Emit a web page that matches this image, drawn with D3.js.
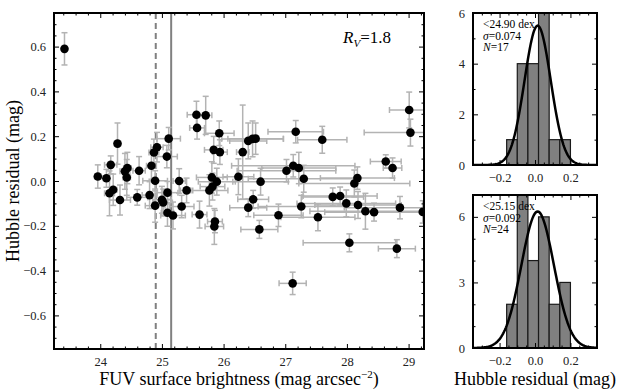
<!DOCTYPE html>
<html>
<head>
<meta charset="utf-8">
<script src="https://cdn.jsdelivr.net/npm/d3@7"></script>
<style>
  body { margin: 0; background: #fff; }
  svg { display: block; font-family: "Liberation Serif", "DejaVu Serif", serif; }
</style>
</head>
<body>
<svg id="chart" width="623" height="391"></svg>
<script>
// FUV surface brightness vs Hubble residual
let fuv = [23.42, 23.96, 24.10, 24.17, 24.28, 24.15, 24.21, 24.32, 24.40, 24.44,
    24.43, 24.63, 24.60, 24.80, 24.83, 24.89, 24.87, 24.92, 24.89, 25.00,
    25.02, 25.09, 25.08, 25.11, 25.09, 25.18, 25.28, 25.40, 25.32, 25.56,
    25.71, 25.57, 25.61, 25.77, 25.82, 25.86, 25.85, 25.93, 25.84, 25.94,
    25.81, 25.89, 26.31, 26.40, 26.47, 26.52, 27.17, 27.60, 29.01, 29.03,
    28.63, 28.74, 27.02, 27.13, 27.22, 27.30, 26.24, 26.60, 28.12, 28.17,
    27.77, 27.89, 27.99, 28.18, 26.48, 26.40, 27.26, 26.89, 27.53, 28.30,
    28.44, 28.86, 29.23, 26.58, 28.04, 28.81, 27.12];
let resid = [0.590, 0.020, 0.012, 0.072, 0.167, -0.055, -0.039, -0.085, 0.043, 0.058,
    0.016, 0.046, -0.073, -0.063, 0.068, 0.001, 0.127, 0.151, -0.110, -0.084,
    -0.096, -0.052, 0.109, 0.189, -0.142, -0.154, 0.000, -0.042, -0.114, 0.296,
    0.293, 0.237, -0.150, -0.042, -0.025, -0.181, -0.203, 0.213, 0.139, 0.129,
    0.016, -0.003, 0.129, 0.179, 0.188, 0.189, 0.220, 0.184, 0.317, 0.216,
    0.087, 0.058, 0.046, 0.068, 0.058, 0.010, 0.019, -0.003, -0.011, 0.013,
    -0.071, -0.067, -0.100, -0.107, -0.082, -0.119, -0.114, -0.153, -0.162, -0.135,
    -0.139, -0.119, -0.138, -0.216, -0.276, -0.302, -0.457];
let fuvErr = [0.00, 0.05, 0.05, 0.10, 0.05, 0.08, 0.06, 0.17, 0.08, 0.06,
    0.06, 0.10, 0.17, 0.12, 0.08, 0.20, 0.08, 0.10, 0.16, 0.15,
    0.15, 0.17, 0.17, 0.19, 0.10, 0.20, 0.10, 0.10, 0.20, 0.15,
    0.10, 0.12, 0.12, 0.30, 0.20, 0.12, 0.15, 0.24, 0.15, 0.12,
    0.25, 0.30, 0.10, 0.30, 0.50, 0.45, 0.45, 0.40, 0.32, 0.75,
    0.25, 0.15, 0.80, 1.00, 0.60, 0.90, 0.25, 0.45, 0.90, 0.60,
    0.50, 0.60, 0.80, 0.70, 0.25, 0.30, 0.70, 0.40, 0.60, 0.90,
    0.80, 0.90, 0.90, 0.30, 0.75, 0.30, 0.22];
let residErr = [0.072, 0.052, 0.040, 0.040, 0.092, 0.100, 0.070, 0.067, 0.080, 0.070,
    0.080, 0.063, 0.035, 0.060, 0.060, 0.045, 0.060, 0.066, 0.074, 0.060,
    0.060, 0.050, 0.050, 0.050, 0.060, 0.060, 0.055, 0.055, 0.050, 0.060,
    0.085, 0.050, 0.060, 0.070, 0.060, 0.050, 0.080, 0.055, 0.060, 0.055,
    0.070, 0.060, 0.210, 0.080, 0.080, 0.070, 0.050, 0.060, 0.080, 0.060,
    0.030, 0.045, 0.050, 0.050, 0.070, 0.060, 0.080, 0.060, 0.060, 0.050,
    0.040, 0.040, 0.060, 0.060, 0.040, 0.040, 0.050, 0.050, 0.060, 0.080,
    0.040, 0.050, 0.050, 0.040, 0.040, 0.040, 0.050];

let cuts = [24.90, 25.15];

// histogram panels
let binEdges = [-0.16, -0.10, -0.04, 0.02, 0.08, 0.14, 0.20];
let histTop = [1, 4, 4, 6, 1, 1];
let histBottom = [2, 7, 4, 6, 2, 3];
let fitMu = [0.015, 0.015];
let fitSigma = [0.074, 0.092];
let fitN = [17, 24];
let histLabels = ["<24.90 dex", "<25.15 dex"];

let xTicks = [24, 25, 26, 27, 28, 29];
let yTicks = [-0.6, -0.4, -0.2, 0.0, 0.2, 0.4, 0.6];

let svg = d3.select("#chart");

//main panel
let main = { left: 54, right: 424, top: 13, bottom: 349 };

let x = d3.scaleLinear().domain([23.25, 29.25]).range([main.left, main.right]);
let y = d3.scaleLinear().domain([-0.75, 0.75]).range([main.bottom, main.top]);

svg.append("clipPath").attr("id", "clipmain")
    .append("rect")
    .attr("x", main.left).attr("y", main.top)
    .attr("width", main.right - main.left).attr("height", main.bottom - main.top);

let plot = svg.append("g").attr("clip-path", "url(#clipmain)");

//cut lines
plot.selectAll("line.cut")
    .data(cuts)
    .enter()
    .append("line")
    .attr("x1", d => x(d)).attr("x2", d => x(d))
    .attr("y1", main.top).attr("y2", main.bottom)
    .attr("stroke", "#808080")
    .attr("stroke-width", 2)
    .attr("stroke-dasharray", (d, i) => i == 0 ? "6,4" : null);

let pts = fuv.map((d, i) => ({ x: d, y: resid[i], xe: fuvErr[i], ye: residErr[i] }));

let errColor = "#b3b3b3";
let eb = plot.append("g")
    .attr("stroke", errColor)
    .attr("stroke-width", 1.5)
    .attr("fill", "none");

pts.forEach(function(p) {
    let cx = x(p.x), cy = y(p.y);
    if (p.xe > 0) {
        eb.append("line").attr("x1", x(p.x - p.xe)).attr("x2", x(p.x + p.xe)).attr("y1", cy).attr("y2", cy);
        eb.append("line").attr("x1", x(p.x - p.xe)).attr("x2", x(p.x - p.xe)).attr("y1", cy - 3).attr("y2", cy + 3);
        eb.append("line").attr("x1", x(p.x + p.xe)).attr("x2", x(p.x + p.xe)).attr("y1", cy - 3).attr("y2", cy + 3);
    }
    eb.append("line").attr("x1", cx).attr("x2", cx).attr("y1", y(p.y - p.ye)).attr("y2", y(p.y + p.ye));
    eb.append("line").attr("x1", cx - 3).attr("x2", cx + 3).attr("y1", y(p.y - p.ye)).attr("y2", y(p.y - p.ye));
    eb.append("line").attr("x1", cx - 3).attr("x2", cx + 3).attr("y1", y(p.y + p.ye)).attr("y2", y(p.y + p.ye));
});

plot.selectAll("circle.pt")
    .data(pts)
    .enter()
    .append("circle")
    .attr("class", "pt")
    .attr("cx", d => x(d.x))
    .attr("cy", d => y(d.y))
    .attr("r", 4.3)
    .attr("fill", "black");

//axes, ticks inside on all sides
function frame(g, xs, ys, xt, yt, xminor, yminor, xfmt, yfmt) {
    let [x0, x1] = xs.range();
    let [y0, y1] = ys.range();
    g.append("g").attr("transform", `translate(0,${y0})`)
        .call(d3.axisBottom(xs).tickValues(xt).tickSizeInner(-5).tickSizeOuter(0).tickPadding(8).tickFormat(xfmt));
    g.append("g").attr("transform", `translate(0,${y1})`)
        .call(d3.axisTop(xs).tickValues(xt).tickSizeInner(-5).tickSizeOuter(0).tickFormat(""));
    g.append("g").attr("transform", `translate(${x0},0)`)
        .call(d3.axisLeft(ys).tickValues(yt).tickSizeInner(-5).tickSizeOuter(0).tickPadding(8).tickFormat(yfmt));
    g.append("g").attr("transform", `translate(${x1},0)`)
        .call(d3.axisRight(ys).tickValues(yt).tickSizeInner(-5).tickSizeOuter(0).tickFormat(""));
    //minor
    g.append("g").attr("transform", `translate(0,${y0})`)
        .call(d3.axisBottom(xs).tickValues(xminor).tickSizeInner(-2.5).tickSizeOuter(0).tickFormat(""));
    g.append("g").attr("transform", `translate(0,${y1})`)
        .call(d3.axisTop(xs).tickValues(xminor).tickSizeInner(-2.5).tickSizeOuter(0).tickFormat(""));
    g.append("g").attr("transform", `translate(${x0},0)`)
        .call(d3.axisLeft(ys).tickValues(yminor).tickSizeInner(-2.5).tickSizeOuter(0).tickFormat(""));
    g.append("g").attr("transform", `translate(${x1},0)`)
        .call(d3.axisRight(ys).tickValues(yminor).tickSizeInner(-2.5).tickSizeOuter(0).tickFormat(""));
    g.selectAll(".domain").remove();
    g.selectAll(".tick line").attr("stroke", "black").attr("stroke-width", 1);
    g.selectAll(".tick text").attr("font-family", "Liberation Serif, serif").attr("font-size", 12.5).attr("fill", "#222");
    g.append("rect")
        .attr("x", x0).attr("y", y1)
        .attr("width", x1 - x0).attr("height", y0 - y1)
        .attr("fill", "none").attr("stroke", "black").attr("stroke-width", 2);
}

let minorX = d3.range(23.4, 29.25, 0.2).filter(v => Math.abs(v - Math.round(v)) > 0.01);
let minorY = d3.range(-0.7, 0.75, 0.05).filter(v => Math.abs(v * 5 - Math.round(v * 5)) > 0.01);

frame(svg.append("g"), x, y, xTicks, yTicks, minorX, minorY, d3.format("d"), d3.format(".1f"));

//R_V label
let rv = svg.append("text")
    .attr("x", 343).attr("y", 43)
    .attr("font-size", 17)
    .attr("fill", "black");
rv.append("tspan").attr("font-style", "italic").text("R");
rv.append("tspan").attr("font-style", "italic").attr("font-size", 11).attr("dy", 4).text("V");
rv.append("tspan").attr("dy", -4).text("=1.8");

//axis labels
let xl = svg.append("text")
    .attr("x", 239).attr("y", 385)
    .attr("text-anchor", "middle")
    .attr("font-size", 18)
    .text("FUV surface brightness (mag arcsec");
xl.append("tspan").attr("font-size", 11).attr("dy", -7).text("\u22122");
xl.append("tspan").attr("dy", 7).text(")");

svg.append("text")
    .attr("transform", "translate(19,181) rotate(-90)")
    .attr("text-anchor", "middle")
    .attr("font-size", 18)
    .text("Hubble residual (mag)");

//histograms
let panels = [
    { top: 13, bottom: 165, ymax: 6, yticks: [0, 2, 4, 6], yminor: [1, 3, 5], counts: histTop },
    { top: 195, bottom: 348, ymax: 7, yticks: [0, 3, 6], yminor: [1, 2, 4, 5, 7], counts: histBottom }
];
let hLeft = 473, hRight = 597;

panels.forEach(function(p, k) {
    let hx = d3.scaleLinear().domain([-0.35, 0.35]).range([hLeft, hRight]);
    let hy = d3.scaleLinear().domain([0, p.ymax]).range([p.bottom, p.top]);

    let g = svg.append("g");
    svg.append("clipPath").attr("id", "cliph" + k)
        .append("rect")
        .attr("x", hLeft).attr("y", p.top)
        .attr("width", hRight - hLeft).attr("height", p.bottom - p.top);

    let inner = g.append("g").attr("clip-path", `url(#cliph${k})`);

    let bins = p.counts.map((c, i) => ({ x0: binEdges[i], x1: binEdges[i + 1], n: c }));
    inner.selectAll("rect.bar")
        .data(bins)
        .enter()
        .append("rect")
        .attr("x", d => hx(d.x0))
        .attr("y", d => hy(d.n))
        .attr("width", d => hx(d.x1) - hx(d.x0))
        .attr("height", d => hy(0) - hy(d.n))
        .attr("fill", "#808080")
        .attr("stroke", "#1a1a1a")
        .attr("stroke-width", 1.2);

    //gaussian fit
    let bw = binEdges[1] - binEdges[0];
    let amp = fitN[k] * bw / (fitSigma[k] * Math.sqrt(2 * Math.PI));
    let xs = d3.range(-0.35, 0.3501, 0.005);
    let line = d3.line()
        .x(d => hx(d))
        .y(d => hy(amp * Math.exp(-0.5 * Math.pow((d - fitMu[k]) / fitSigma[k], 2))));
    inner.append("path")
        .attr("d", line(xs))
        .attr("fill", "none")
        .attr("stroke", "black")
        .attr("stroke-width", 2.5);

    frame(g, hx, hy, [-0.2, 0.0, 0.2], p.yticks,
        d3.range(-0.3, 0.35, 0.05).filter(v => Math.abs(v * 5 - Math.round(v * 5)) > 0.01),
        p.yminor, d3.format(".1f"), d3.format("d"));

    //stats text, one line each
    let ty = p.top + 15;
    g.append("text")
        .attr("x", 483).attr("y", ty)
        .attr("font-size", 11.5)
        .text(histLabels[k]);
    let s = g.append("text")
        .attr("x", 483).attr("y", ty + 11.5)
        .attr("font-size", 11.5);
    s.append("tspan").attr("font-style", "italic").text("\u03c3");
    s.append("tspan").text("=" + fitSigma[k].toFixed(3));
    let n = g.append("text")
        .attr("x", 483).attr("y", ty + 23)
        .attr("font-size", 11.5);
    n.append("tspan").attr("font-style", "italic").text("N");
    n.append("tspan").text("=" + fitN[k]);
});

svg.append("text")
    .attr("x", 535).attr("y", 385)
    .attr("text-anchor", "middle")
    .attr("font-size", 18)
    .text("Hubble residual (mag)");
</script>
</body>
</html>
